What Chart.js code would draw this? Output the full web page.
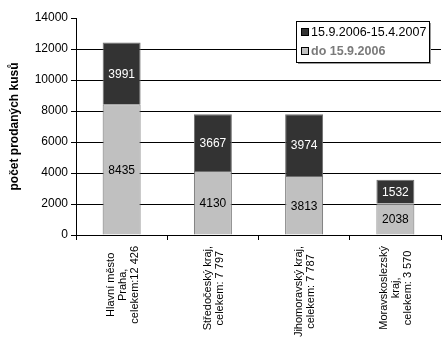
<!DOCTYPE html>
<html>
<head>
<meta charset="utf-8">
<script src="https://cdn.jsdelivr.net/npm/chart.js@4.4.0/dist/chart.umd.min.js"></script>
<style>
html,body{margin:0;padding:0;background:#fff;}
#wrap{width:445px;height:356px;position:relative;}
</style>
</head>
<body>
<div id="wrap"><canvas id="c" width="445" height="356"></canvas></div>
<script>
const categories = [
  ["Hlavní město", "Praha,", "celekem:12 426"],
  ["Středočeský kraj,", "celekem: 7 797"],
  ["Jihomoravský kraj,", "celekem: 7 787"],
  ["Moravskoslezský", "kraj,", "celekem: 3 570"]
];
const seriesBefore = [8435, 4130, 3813, 2038];
const seriesAfter = [3991, 3667, 3974, 1532];
const labelBefore = "do 15.9.2006";
const labelAfter = "15.9.2006-15.4.2007";
const yTicks = [0, 2000, 4000, 6000, 8000, 10000, 12000, 14000];
const yTitle = "počet prodaných kusů";

const FONT = "'Liberation Sans', Arial, sans-serif";

const xLabelPlugin = {
  id: 'xLabels',
  afterDraw(chart) {
    const ctx = chart.ctx;
    const xs = chart.scales.x;
    const top = chart.chartArea.bottom + 11;
    const lh = 12;
    ctx.save();
    ctx.font = "11px " + FONT;
    ctx.fillStyle = "#000";
    ctx.textAlign = "center";
    ctx.textBaseline = "middle";
    categories.forEach((lines, i) => {
      const cx = xs.getPixelForValue(i) + 1;
      const maxW = Math.max(...lines.map(l => ctx.measureText(l).width));
      const cy = top + maxW / 2;
      ctx.save();
      ctx.translate(cx, cy);
      ctx.rotate(-Math.PI / 2);
      const n = lines.length;
      lines.forEach((l, k) => {
        ctx.fillText(l, 0, (k - (n - 1) / 2) * lh);
      });
      ctx.restore();
    });
    ctx.restore();
  }
};

const valueLabelPlugin = {
  id: 'valueLabels',
  afterDatasetsDraw(chart) {
    const ctx = chart.ctx;
    ctx.save();
    ctx.font = "12px " + FONT;
    ctx.textAlign = "center";
    ctx.textBaseline = "middle";
    chart.data.datasets.forEach((ds, di) => {
      const meta = chart.getDatasetMeta(di);
      meta.data.forEach((bar, i) => {
        const y = (bar.y + bar.base) / 2;
        ctx.fillStyle = di === 0 ? "#000" : "#fff";
        ctx.fillText(String(ds.data[i]), bar.x, y + 1);
      });
    });
    ctx.restore();
  }
};

const legendPlugin = {
  id: 'boxLegend',
  afterDraw(chart) {
    const ctx = chart.ctx;
    const x = 296, y = 21, w = 133, h = 41;
    ctx.save();
    ctx.fillStyle = "#9a9a9a";
    ctx.fillRect(x + 2, y + 2, w, h);
    ctx.fillStyle = "#fff";
    ctx.fillRect(x, y, w, h);
    ctx.strokeStyle = "#000";
    ctx.lineWidth = 1;
    ctx.strokeRect(x + 0.5, y + 0.5, w, h);
    const items = [
      {label: chart.data.datasets[1].label, fill: chart.data.datasets[1].backgroundColor, text: "#000", font: "12.5px "},
      {label: chart.data.datasets[0].label, fill: chart.data.datasets[0].backgroundColor, text: "#7a7a7a", font: "bold 12.5px "}
    ];
    ctx.textBaseline = "middle";
    ctx.textAlign = "left";
    items.forEach((it, k) => {
      const cy = y + 11 + k * 19;
      ctx.fillStyle = it.fill;
      ctx.fillRect(x + 5.5, cy - 3.5, 7, 7);
      ctx.strokeStyle = "#000";
      ctx.strokeRect(x + 5.5, cy - 3.5, 7, 7);
      ctx.font = it.font + FONT;
      ctx.fillStyle = it.text;
      ctx.fillText(it.label, x + 15, cy + 1);
    });
    ctx.restore();
  }
};

new Chart(document.getElementById('c'), {
  type: 'bar',
  data: {
    labels: categories,
    datasets: [
      {label: labelBefore, data: seriesBefore, backgroundColor: "#c0c0c0", borderColor: "#6e6e6e", borderWidth: 1, categoryPercentage: 1, barPercentage: 0.416},
      {label: labelAfter, data: seriesAfter, backgroundColor: "#333333", borderColor: "#6e6e6e", borderWidth: 1, categoryPercentage: 1, barPercentage: 0.416}
    ]
  },
  options: {
    responsive: false,
    animation: false,
    layout: {padding: {top: 18, right: 4, left: 0, bottom: 0}},
    plugins: {legend: {display: false}, tooltip: {enabled: false}},
    scales: {
      x: {
        stacked: true,
        border: {color: "#000", width: 1},
        grid: {drawOnChartArea: false, offset: true, tickLength: 5, tickColor: "#000"},
        ticks: {display: false},
        afterFit(s) { s.height = 121; }
      },
      y: {
        stacked: true,
        min: 0,
        max: 14000,
        afterBuildTicks(s) { s.ticks = yTicks.map(v => ({value: v})); },
        border: {color: "#000", width: 1},
        grid: {
          color: (c) => (c.tick && (c.tick.value === 14000 || c.tick.value === 0)) ? "rgba(0,0,0,0)" : "#000",
          tickColor: "#000",
          tickLength: 5
        },
        ticks: {font: {size: 12, family: FONT}, color: "#000", padding: 3, callback: (v) => String(v)},
        title: {display: true, text: yTitle, font: {size: 12, weight: 'bold', family: FONT}, color: "#000", padding: {top: 7, bottom: 0}},
        afterFit(s) { s.width = 76; }
      }
    }
  },
  plugins: [xLabelPlugin, valueLabelPlugin, legendPlugin]
});
</script>
</body>
</html>
